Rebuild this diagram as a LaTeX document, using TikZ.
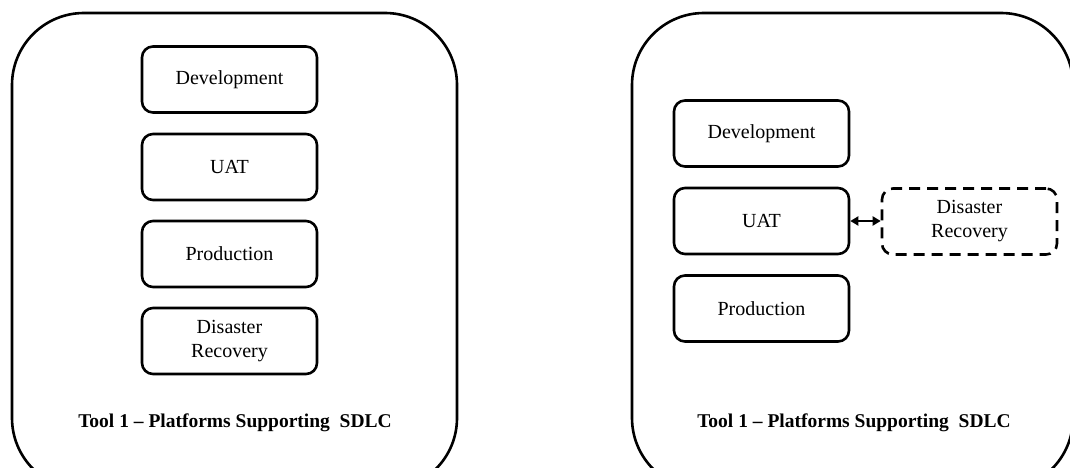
\documentclass[tikz,border=0pt]{standalone}
\usepackage{fontspec}
\setmainfont{Liberation Serif}
\usetikzlibrary{arrows.meta}
\begin{document}
\begin{tikzpicture}[x=1pt,y=-1pt,
  outer/.style={draw, line width=2.6pt, rounded corners=72pt},
  envbox/.style={draw, line width=2.6pt, rounded corners=11pt, minimum width=175pt, minimum height=66pt, align=center, font=\fontsize{20}{24}\selectfont, inner sep=0pt},
  drbox/.style={envbox, dash pattern=on 11pt off 7pt},
  title/.style={font=\fontsize{19.5}{22}\bfseries\selectfont},
  link/.style={line width=2.6pt, {Triangle[length=8pt,width=9pt]}-{Triangle[length=8pt,width=9pt]}}
]
\useasboundingbox (0,0) rectangle (1070,468);
% left panel
\draw[outer] (12,13) rectangle (457,490);
\node[envbox] (ldev) at (229.5,79.5) {Development};
\node[envbox] (luat) at (229.5,167) {UAT};
\node[envbox] (lprod) at (229.5,254) {Production};
\node[envbox] (ldr) at (229.5,341) {Disaster\\Recovery};
\node[title] (ltitle) at (235,423) {Tool 1 – Platforms Supporting\ \ SDLC};
% right panel
\draw[outer] (632,13) rectangle (1073,490);
\node[envbox] (rdev) at (761.5,133.5) {Development};
\node[envbox] (ruat) at (761.5,221) {UAT};
\node[envbox] (rprod) at (761.5,308.5) {Production};
\node[drbox] (rdr) at (969.5,221.5) {Disaster\\Recovery};
\node[title] (rtitle) at (854,423) {Tool 1 – Platforms Supporting\ \ SDLC};
\draw[link] (ruat.east) -- (rdr.west |- ruat.east);
\end{tikzpicture}
\end{document}
